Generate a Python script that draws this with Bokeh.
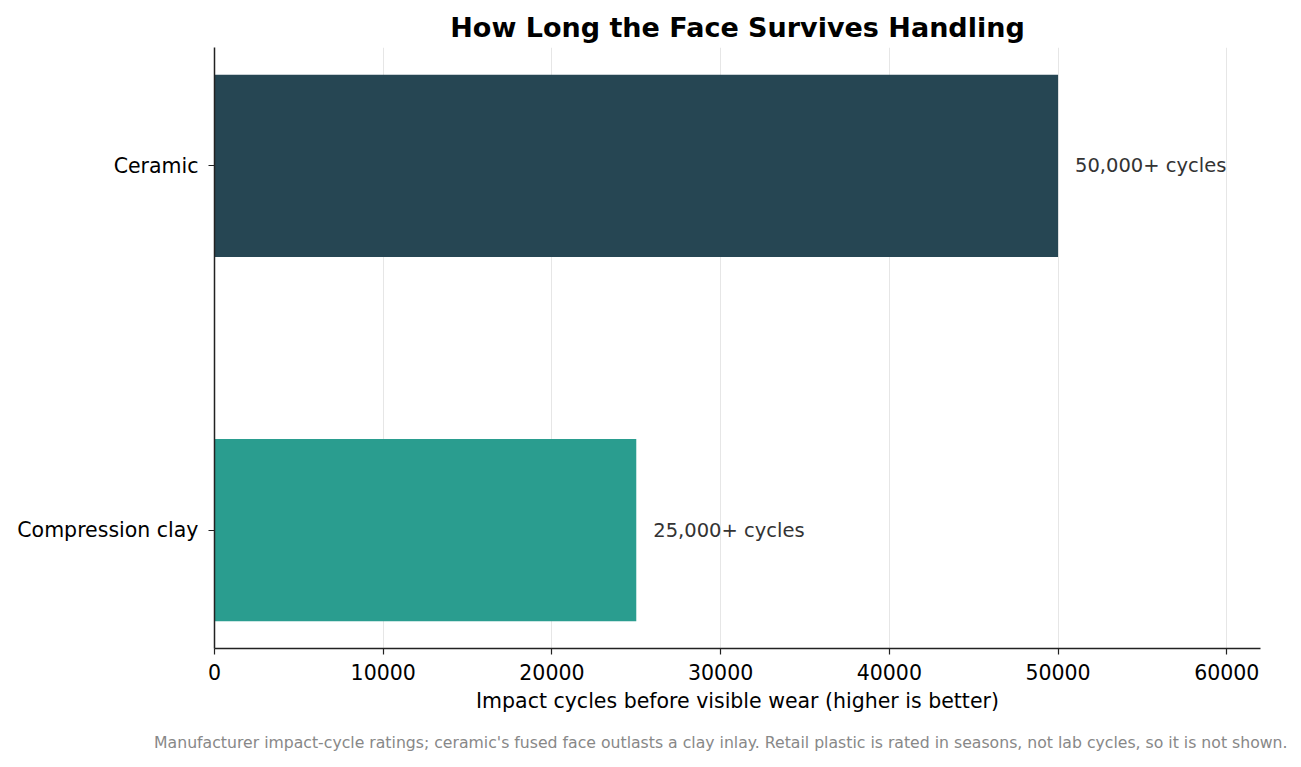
from bokeh.core.properties import value
from bokeh.embed import file_html
from bokeh.models import ColumnDataSource, FixedTicker, Range1d, Title
from bokeh.plotting import figure
from bokeh.resources import INLINE

# data
materials = ["Compression clay", "Ceramic"]
cycles = [25000, 50000]
value_labels = ["25,000+ cycles", "50,000+ cycles"]
x_ticks = [0, 10000, 20000, 30000, 40000, 50000, 60000]

bar_colors = ["#2a9d8f", "#264653"]
FONT = "DejaVu Sans"

source = ColumnDataSource(data=dict(
    y=list(range(len(materials))),
    cycles=cycles,
    label=value_labels,
    color=bar_colors,
))

p = figure(width=1301, height=767, output_backend="svg", toolbar_location=None,
           x_range=Range1d(0, 62000), y_range=Range1d(-0.325, 1.325),
           min_border_left=214, min_border_right=41, min_border_top=47,
           min_border_bottom=119, title="How Long the Face Survives Handling")

p.hbar(y="y", left=0, right="cycles", height=0.5, fill_color="color",
       line_color=None, source=source)

p.text(x="cycles", y="y", text="label", source=source, x_offset=17,
       text_align="left", text_baseline="middle", text_font=value(FONT),
       text_font_size="19.5px", text_color="#333333")

# title
p.title.text_font = FONT
p.title.text_font_size = "27px"
p.title.text_font_style = "bold"
p.title.text_color = "black"
p.title.align = "center"
p.title.standoff = 10

p.outline_line_color = None
p.ygrid.grid_line_color = None
p.xgrid.grid_line_color = "#e6e6e6"
p.xgrid.grid_line_width = 1

p.xaxis.ticker = FixedTicker(ticks=x_ticks)
p.yaxis.ticker = FixedTicker(ticks=list(range(len(materials))))
p.yaxis.major_label_overrides = {i: m for i, m in enumerate(materials)}
p.xaxis.axis_label = "Impact cycles before visible wear (higher is better)"

for ax in (p.xaxis, p.yaxis):
    ax.axis_line_color = "#222222"
    ax.axis_line_width = 1.5
    ax.major_tick_line_color = "#222222"
    ax.major_tick_line_width = 1.2
    ax.major_tick_out = 6
    ax.major_tick_in = 0
    ax.minor_tick_line_color = None
    ax.major_label_text_font = FONT
    ax.major_label_text_font_size = "20.5px"
    ax.major_label_text_color = "black"
    ax.axis_label_text_font = FONT
    ax.axis_label_text_font_size = "20.5px"
    ax.axis_label_text_font_style = "normal"
    ax.axis_label_text_color = "black"

p.xaxis.major_label_standoff = 9
p.yaxis.major_label_standoff = 10
p.xaxis.axis_label_standoff = 6

note = Title(text="Manufacturer impact-cycle ratings; ceramic's fused face outlasts a clay inlay. "
                  "Retail plastic is rated in seasons, not lab cycles, so it is not shown.",
             align="right", offset=-27, standoff=31, text_font=FONT,
             text_font_size="15.7px", text_font_style="normal", text_color="#888888")
p.add_layout(note, "below")

open("out.html", "w").write(file_html(p, INLINE))
